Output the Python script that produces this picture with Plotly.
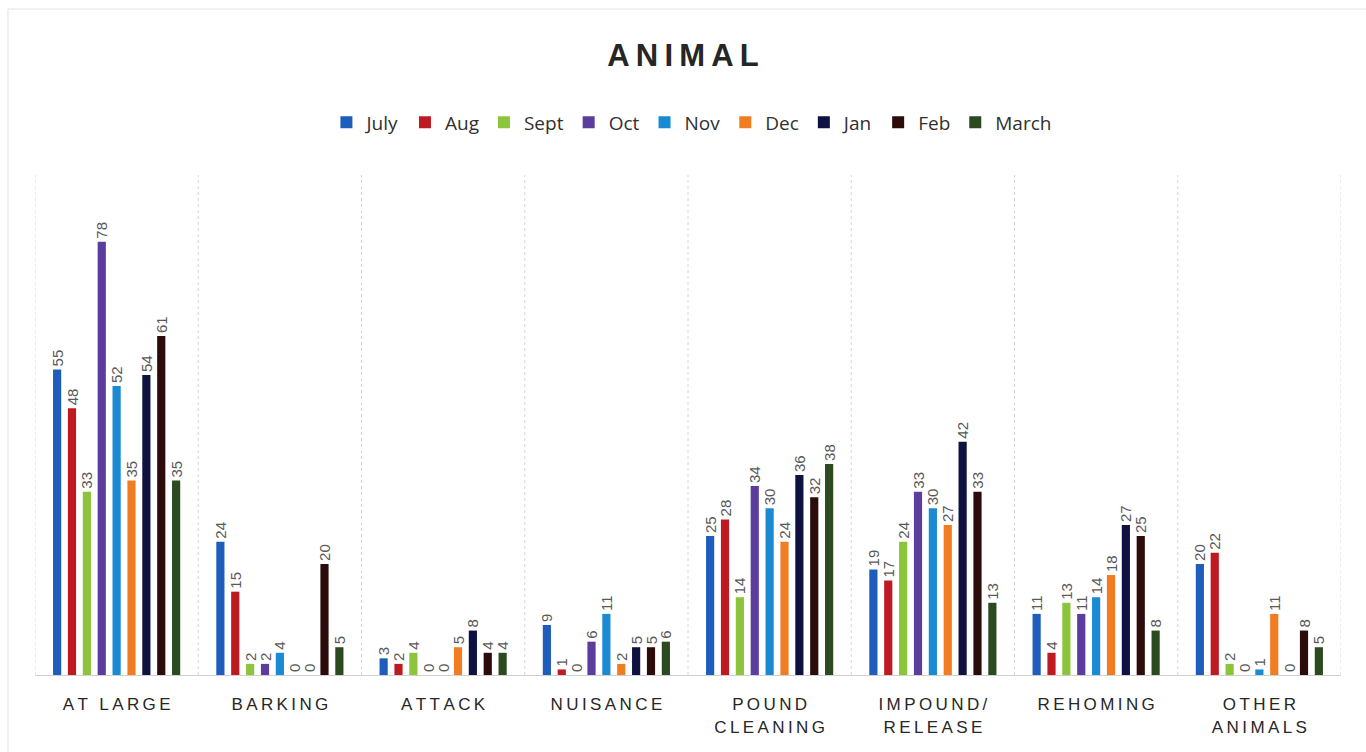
import plotly.graph_objects as go

categories = ["AT LARGE", "BARKING", "ATTACK", "NUISANCE", "POUND CLEANING",
              "IMPOUND/ RELEASE", "REHOMING", "OTHER ANIMALS"]
category_lines = [["AT LARGE"], ["BARKING"], ["ATTACK"], ["NUISANCE"],
                  ["POUND", "CLEANING"], ["IMPOUND/", "RELEASE"], ["REHOMING"],
                  ["OTHER", "ANIMALS"]]

months = ["July", "Aug", "Sept", "Oct", "Nov", "Dec", "Jan", "Feb", "March"]

july = [55, 24, 3, 9, 25, 19, 11, 20]
aug = [48, 15, 2, 1, 28, 17, 4, 22]
sept = [33, 2, 4, 0, 14, 24, 13, 2]
oct_ = [78, 2, 0, 6, 34, 33, 11, 0]
nov = [52, 4, 0, 11, 30, 30, 14, 1]
dec = [35, 0, 5, 2, 24, 27, 18, 11]
jan = [54, 0, 8, 5, 36, 42, 27, 0]
feb = [61, 20, 4, 5, 32, 33, 25, 8]
march = [35, 5, 4, 6, 38, 13, 8, 5]

series = [july, aug, sept, oct_, nov, dec, jan, feb, march]
colors = ["#1f5dbd", "#bf1a22", "#8cc43c", "#5a3d9c", "#1a8ad2",
          "#f07d22", "#0e1240", "#2c0b0b", "#2b4a1f"]


def spaced(word):
    # widen letter spacing with thin spaces
    return "\u2009".join(word)


tick_text = ["<br>".join(spaced(line) for line in lines) for lines in category_lines]

fig = go.Figure()
for name, vals, col in zip(months, series, colors):
    fig.add_trace(go.Bar(
        x=categories, y=vals, name=name,
        marker=dict(color=col, line=dict(width=0)),
        text=[str(v) for v in vals], textposition="outside",
        textangle=-90, cliponaxis=False,
        textfont=dict(family="Liberation Sans, Arial", size=15, color="#595959"),
    ))

# dotted category dividers
shapes = []
for i in range(len(categories) + 1):
    shapes.append(dict(type="line", xref="x", yref="paper",
                       x0=i - 0.5, x1=i - 0.5, y0=0, y1=1,
                       line=dict(color="#d6d6d6", width=1, dash="dot"),
                       layer="below"))
# outer frame
shapes.append(dict(type="rect", xref="paper", yref="paper",
                   x0=-0.0207, x1=1.03, y0=-0.2, y1=1.332,
                   line=dict(color="#e2e2e2", width=1), fillcolor="rgba(0,0,0,0)",
                   layer="below"))

fig.update_layout(
    width=1366, height=752,
    margin=dict(l=35, r=25, t=175, b=77),
    paper_bgcolor="white", plot_bgcolor="white",
    barmode="group", bargap=0.18, bargroupgap=0.45,
    uniformtext=dict(minsize=15, mode="show"),
    title=dict(text="<b>" + "\u2009".join("ANIMAL") + "</b>", x=0.5, xanchor="center",
               y=0.927, yanchor="middle",
               font=dict(family="Liberation Sans, Arial", size=31, color="#262626")),
    legend=dict(orientation="h", x=0.503, xanchor="center", y=1.105, yanchor="middle",
                font=dict(family="Open Sans, Liberation Sans", size=19, color="#303030"),
                itemwidth=30, traceorder="normal", bgcolor="rgba(0,0,0,0)"),
    xaxis=dict(tickmode="array", tickvals=categories, ticktext=tick_text,
               tickfont=dict(family="Liberation Sans, Arial", size=17, color="#262626"),
               showline=True, linecolor="#d0d0d0", linewidth=1, ticks="",
               ticklabelstandoff=14,
               showgrid=False, range=[-0.5, len(categories) - 0.5]),
    yaxis=dict(range=[0, 90], visible=False, showgrid=False, zeroline=False),
    shapes=shapes,
    showlegend=True,
)

fig.write_html("out.html")
